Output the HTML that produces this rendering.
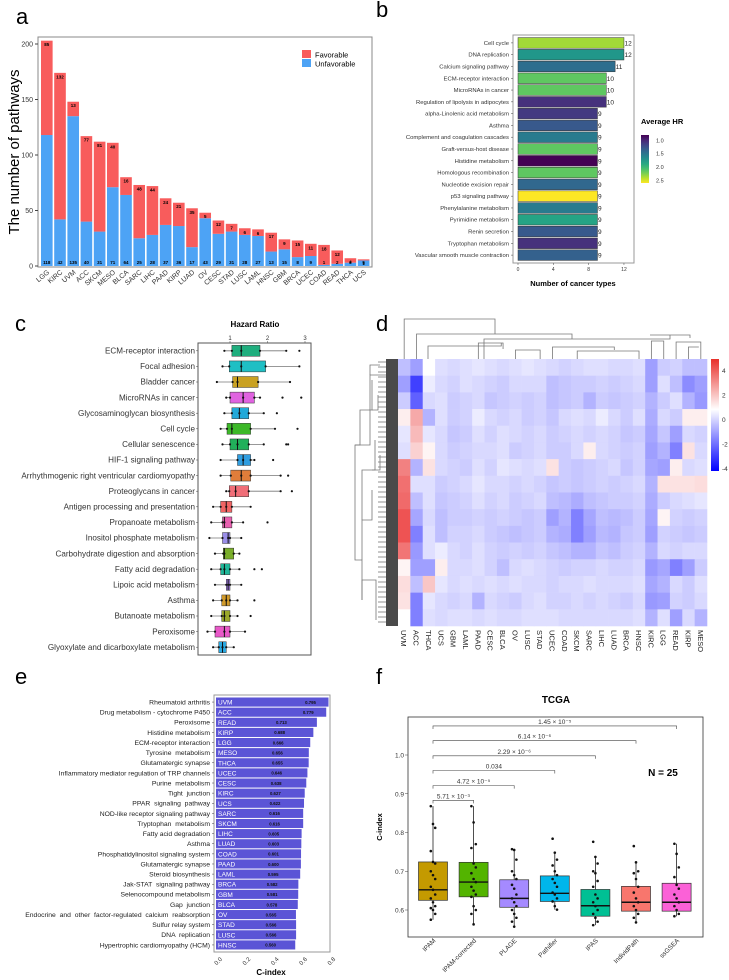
<!DOCTYPE html>
<html><head><meta charset="utf-8"><style>
html,body{margin:0;padding:0;background:#fff;}
svg{display:block;font-family:"Liberation Sans",Arial,sans-serif;}
</style></head><body>
<svg id="fig" width="729" height="980" viewBox="0 0 729 980" xmlns="http://www.w3.org/2000/svg"></svg>
<script>
// ---------- DATA ----------
// Panel a
const aCats = ["LGG","KIRC","UVM","ACC","SKCM","MESO","BLCA","SARC","LIHC","PAAD","KIRP","LUAD","OV","CESC","STAD","LUSC","LAML","HNSC","GBM","BRCA","UCEC","COAD","READ","THCA","UCS"];
const aUnfav = [118,42,135,40,31,71,64,25,28,37,36,17,43,29,31,28,27,13,15,8,9,1,2,3,5];
const aFav = [85,132,13,77,81,40,16,48,44,24,21,35,5,12,7,6,6,17,9,15,11,18,12,4,1];
const aTicks = [0,50,100,150,200];
// Panel b
const bCats = ["Cell cycle","DNA replication","Calcium signaling pathway","ECM-receptor interaction","MicroRNAs in cancer","Regulation of lipolysis in adipocytes","alpha-Linolenic acid metabolism","Asthma","Complement and coagulation cascades","Graft-versus-host disease","Histidine metabolism","Homologous recombination","Nucleotide excision repair","p53 signaling pathway","Phenylalanine metabolism","Pyrimidine metabolism","Renin secretion","Tryptophan metabolism","Vascular smooth muscle contraction"];
const bCounts = [12,12,11,10,10,10,9,9,9,9,9,9,9,9,9,9,9,9,9];
const bHR = [2.35,1.75,1.45,2.15,2.15,1.05,1.1,1.3,1.55,2.15,0.8,2.15,1.4,2.6,1.55,1.85,1.3,1.05,1.35];
const bTicks = [0,4,8,12];
const bLegTicks = [1.0,1.5,2.0,2.5];
// Panel c
const cCats = ["ECM-receptor interaction","Focal adhesion","Bladder cancer","MicroRNAs in cancer","Glycosaminoglycan biosynthesis","Cell cycle","Cellular senescence","HIF-1 signaling pathway","Arrhythmogenic right ventricular cardiomyopathy","Proteoglycans in cancer","Antigen processing and presentation","Propanoate metabolism","Inositol phosphate metabolism","Carbohydrate digestion and absorption","Fatty acid degradation","Lipoic acid metabolism","Asthma","Butanoate metabolism","Peroxisome","Glyoxylate and dicarboxylate metabolism"];
const cLo = [0.85,0.8,0.65,0.9,0.85,0.75,0.8,0.75,0.75,0.9,0.55,0.5,0.45,0.6,0.5,0.6,0.55,0.5,0.4,0.55];
const cQ1 = [1.05,0.98,1.07,1.0,1.05,0.92,1.0,1.2,1.02,0.98,0.75,0.8,0.8,0.82,0.75,0.9,0.78,0.78,0.6,0.7];
const cMed = [1.3,1.3,1.2,1.35,1.25,1.05,1.2,1.35,1.3,1.15,0.9,0.85,0.95,0.85,0.85,0.95,0.9,0.85,0.85,0.8];
const cQ3 = [1.8,1.95,1.75,1.65,1.5,1.55,1.5,1.55,1.55,1.5,1.05,1.05,1.0,1.1,1.0,1.0,1.0,1.0,1.0,0.9];
const cHi = [2.5,2.85,2.6,1.8,1.9,2.2,1.9,1.65,2.35,2.35,1.55,1.35,1.3,1.25,1.25,1.3,1.2,1.2,1.4,1.1];
const cOut = [[2.85],[],[],[2.4,2.9],[2.25],[2.8],[2.5,2.55],[2.15],[2.55],[2.65],[],[2.0],[],[],[1.65,1.85],[],[1.65],[1.55],[],[]];
const cColors = ["#1fae7e","#1fbfc4","#c9a122","#e063e0","#22a9d9","#3cb828","#21b05a","#2f9de0","#e07d3a","#f06e78","#f06464","#e860b0","#9a8ee8","#7aae2a","#1fb89a","#a07ce0","#d09a2a","#9aa82a","#e858c8","#2aa8e0"];
const cTicks = [1,2,3];
// Panel d
const dCols = ["UVM","ACC","THCA","UCS","GBM","LAML","PAAD","CESC","BLCA","OV","LUSC","STAD","UCEC","COAD","SKCM","SARC","LIHC","LUAD","BRCA","HNSC","KIRC","LGG","READ","KIRP","MESO"];
const dB1 = [-1,-1.5,0,-0.5,-0.6,-0.5,-0.4,-0.5,-0.6,-0.5,-0.4,-0.5,-0.6,-0.7,-0.6,-0.5,-0.5,-0.6,-0.6,-0.5,-1.5,-0.8,-0.7,-1,-1];
const dB2 = [-1.5,-3,-0.3,-0.6,-0.7,-0.5,-0.6,-0.7,-0.8,-0.6,-0.6,-0.6,-1,-0.9,-0.8,-0.8,-0.7,-0.8,-0.7,-0.6,-1.5,-0.5,-1,-1.8,-1.5];
const dB3 = [-0.8,-2.5,-0.6,-0.5,-0.8,-0.7,-0.6,-0.9,-0.8,-0.7,-0.8,-0.7,-1,-0.9,-0.8,-1.2,-0.8,-0.9,-0.8,-0.7,-1.2,-0.8,-0.5,-1.2,-1.6];
const dB4 = [0.3,1.5,-1.2,-0.5,-0.8,-0.7,-0.3,-0.6,-0.7,-0.6,-0.8,-0.7,-0.9,-0.6,-0.5,-0.6,-0.3,-0.6,-0.8,-0.5,-1.3,-0.6,-0.8,0.3,0.3];
const dB5 = [-0.4,1.2,-0.4,-0.6,-0.9,-0.8,-0.5,-0.7,-0.5,-0.6,-0.7,-0.6,-0.8,-0.7,-0.6,-0.7,-0.6,-0.7,-0.9,-0.8,-1.4,-0.9,-1.5,-0.6,-0.7];
const dB6 = [-0.5,0.8,0.2,-0.6,-0.8,-0.7,-0.6,-0.6,-0.5,-0.8,-0.7,-0.6,-0.8,-0.8,-0.6,0.3,-0.6,-0.7,-0.8,-0.7,-1.5,-1.2,-2,0.5,-0.6];
const dB7 = [2.2,-1.2,0.5,-0.6,-0.7,-0.8,-0.5,-0.7,-0.4,-0.5,-0.6,-0.5,0.5,-0.8,-0.9,-0.8,-0.7,-0.6,-0.9,-0.7,-1.4,-1.5,0.3,-0.6,-0.5];
const dB8 = [2.5,-0.5,-0.5,-0.8,-0.7,-0.6,-0.4,-0.6,-0.6,-0.7,-0.6,-0.7,-0.9,-0.8,-0.9,-0.8,-0.7,-0.8,-0.7,-0.6,-1.2,0.5,0.5,0.5,0.6];
const dB9 = [2.6,-1,-0.5,-0.9,-0.8,-0.7,-0.5,-0.7,-0.6,-0.8,-0.7,-0.6,-1,-1.1,-1.3,-1,-0.9,-0.8,-0.8,-0.7,-1.3,-0.8,-0.6,-0.5,-0.4];
const dB10 = [3,-1.4,-0.6,-1,-0.8,-0.8,-0.7,-0.8,-0.7,-0.8,-0.9,-0.8,-1.5,-1.2,-2,-1.4,-1,-1.1,-1,-0.8,-1.4,0.2,-0.7,-0.8,-0.7];
const dB11 = [3,-2,-0.5,-1,-0.7,-0.7,-0.6,-0.8,-0.9,-1,-0.9,-0.8,-1.2,-1.3,-2,-1.5,-1.1,-1.2,-0.9,-0.8,-1.5,-0.7,-0.8,-0.9,-0.8];
const dB12 = [2.4,-1.6,-0.5,-0.3,-0.6,-0.7,-0.5,-0.7,-0.8,-0.7,-0.8,-0.7,-0.9,-1,-1.2,-1.2,-0.9,-1,-0.8,-0.7,-1.2,-0.6,-0.7,-0.6,-0.6];
const dB13 = [0.2,-1.5,-1.5,0.3,-0.6,-0.6,-0.5,-0.7,-1,-0.6,-0.5,-0.6,-0.7,-0.8,-0.7,-0.7,-0.6,-0.7,-0.7,-0.6,-1.6,-1.4,-2,-1.5,-0.8];
const dB14 = [0.6,-1,1,-0.4,-0.6,-0.5,-0.6,-0.5,-0.6,-0.5,-0.6,-0.6,-0.7,-0.6,-0.6,-0.5,-0.6,-0.6,-0.6,-0.5,-1.4,-1.2,-0.6,-0.8,-0.5];
const dB15 = [0.5,-2,-0.4,-0.6,-0.7,-0.6,-1.2,-0.6,-0.7,-0.8,-0.6,-0.5,-0.7,-0.7,-0.6,-0.7,-0.6,-0.7,-0.8,-0.6,-1.6,-1.5,-0.7,-0.8,-0.6];
const dB16 = [0,-2,-0.5,-0.6,-0.5,-0.5,-0.6,-0.5,-0.6,-0.6,-0.5,-0.5,-0.5,-0.6,-0.6,-0.6,-0.6,-0.6,-0.6,-0.5,-1.2,-0.5,-1.5,-0.6,-1.2];
const dTicks = [4,2,0,-2,-4];
// Panel e
const eCats = ["Rheumatoid arthritis","Drug metabolism - cytochrome P450","Peroxisome","Histidine metabolism","ECM-receptor interaction","Tyrosine  metabolism","Glutamatergic synapse","Inflammatory mediator regulation of TRP channels","Purine  metabolism","Tight  junction","PPAR  signaling  pathway","NOD-like receptor signaling pathway","Tryptophan  metabolism","Fatty acid degradation","Asthma","Phosphatidylinositol signaling system","Glutamatergic synapse","Steroid biosynthesis","Jak-STAT  signaling pathway","Selenocompound metabolism","Gap  junction","Endocrine  and  other  factor-regulated  calcium  reabsorption","Sulfur relay system","DNA  replication","Hypertrophic cardiomyopathy (HCM)"];
const eCancer = ["UVM","ACC","READ","KIRP","LGG","MESO","THCA","UCEC","CESC","KIRC","UCS","SARC","SKCM","LIHC","LUAD","COAD","PAAD","LAML","BRCA","GBM","BLCA","OV","STAD","LUSC","HNSC"];
const eVals = [0.795,0.779,0.713,0.688,0.666,0.656,0.655,0.646,0.638,0.627,0.622,0.616,0.616,0.605,0.603,0.601,0.600,0.595,0.582,0.581,0.578,0.565,0.566,0.566,0.560];
const eTicks = [0,0.2,0.4,0.6,0.8];
// Panel f
const fCats = ["IPAM","IPAM-corrected","PLAGE","Pathifier","IPAS","IndividPath","ssGSEA"];
const fQ1 = [0.625,0.634,0.607,0.622,0.584,0.597,0.597];
const fMed = [0.652,0.672,0.630,0.643,0.611,0.620,0.620];
const fQ3 = [0.724,0.723,0.678,0.688,0.653,0.661,0.669];
const fLo = [0.575,0.563,0.557,0.601,0.561,0.568,0.584];
const fHi = [0.868,0.868,0.757,0.748,0.737,0.723,0.771];
const fPts = [
 [0.868,0.822,0.812,0.752,0.724,0.72,0.7,0.69,0.68,0.66,0.652,0.64,0.63,0.62,0.61,0.605,0.6,0.59,0.575],
 [0.868,0.826,0.77,0.76,0.72,0.71,0.695,0.68,0.672,0.66,0.65,0.64,0.634,0.61,0.6,0.59,0.563],
 [0.757,0.755,0.73,0.7,0.69,0.68,0.665,0.655,0.64,0.63,0.62,0.61,0.6,0.59,0.58,0.57,0.557],
 [0.784,0.748,0.73,0.715,0.7,0.69,0.68,0.67,0.66,0.645,0.64,0.63,0.622,0.61,0.601],
 [0.776,0.737,0.72,0.7,0.695,0.675,0.66,0.64,0.63,0.62,0.61,0.6,0.59,0.58,0.57,0.561],
 [0.765,0.723,0.7,0.695,0.68,0.66,0.645,0.63,0.62,0.61,0.6,0.59,0.58,0.568],
 [0.771,0.745,0.71,0.685,0.665,0.655,0.64,0.63,0.62,0.61,0.6,0.59,0.584]];
const fColors = ["#c49a00","#53b400","#a58aff","#00b6eb","#00c094","#f8766d","#fb61d7"];
const fTicks = [0.6,0.7,0.8,0.9,1.0];
const fBrTo = [1,2,3,4,5,6];
const fBrY = [0.883,0.921,0.96,0.998,1.037,1.075];
const fBrLab = ["5.71 × 10⁻³","4.72 × 10⁻⁵","0.034","2.29 × 10⁻⁶","6.14 × 10⁻⁶","1.45 × 10⁻⁵"];

// ---------- HELPERS ----------
const svg = document.getElementById('fig');
const NS = 'http://www.w3.org/2000/svg';
function mk(tag, at, parent, txt){
  const e = document.createElementNS(NS, tag);
  for (const k in at) e.setAttribute(k, at[k]);
  if (txt !== undefined) e.textContent = txt;
  (parent || svg).appendChild(e);
  return e;
}
function grp(name, parent){
  const g = mk('g', {}, parent);
  
  
  return g;
}
function letter(t, x, y){
  const e = mk('text', {x:x, y:y, 'font-size':22}, svg, t);
  
  
}
letter('a', 16, 24); letter('b', 376, 17); letter('c', 15, 331); letter('d', 376, 331); letter('e', 15, 684); letter('f', 376, 684);

// ---------- PANEL A ----------
(function(){
  const g = grp('panel-a-stacked-bar-chart');
  const L=38, R=372, T=37, B=267;
  const y = v => 266 - v*1.11;
  const step = (R-L-4)/aCats.length, bw = step*0.88;
  const x = i => L + 3 + i*step;
  mk('rect',{x:L,y:T,width:R-L,height:B-T,fill:'none',stroke:'#888','stroke-width':1},g);
  aTicks.forEach(t=>{
    mk('line',{x1:L-3,x2:L,y1:y(t),y2:y(t),stroke:'#444'},g);
    const tl = mk('text',{x:L-5,y:y(t)+2.5,'font-size':7,'text-anchor':'end',fill:'#333'},g,t);
    
    
  });
  aCats.forEach((c,i)=>{
    const u = mk('rect',{x:x(i),y:y(aUnfav[i]),width:bw,height:y(0)-y(aUnfav[i]),fill:'#4da3f5'},g);
    
    
    const f = mk('rect',{x:x(i),y:y(aUnfav[i]+aFav[i]),width:bw,height:y(aUnfav[i])-y(aUnfav[i]+aFav[i]),fill:'#f85c5c'},g);
    
    
    mk('text',{x:x(i)+bw/2,y:y(aUnfav[i]+aFav[i])+5.5,'font-size':4.5,'font-weight':'bold','text-anchor':'middle'},g,aFav[i]);
    mk('text',{x:x(i)+bw/2,y:264,'font-size':4.5,'font-weight':'bold','text-anchor':'middle'},g,aUnfav[i]);
    const cx = x(i)+bw/2+3, cy = 273;
    const lab = mk('text',{x:cx,y:cy,'font-size':7,'text-anchor':'end',fill:'#333',transform:`rotate(-40 ${cx} ${cy})`},g,c);
    
    
  });
  const yt = mk('text',{x:0,y:0,'font-size':15,'text-anchor':'middle',transform:'translate(19 152) rotate(-90)'},g,'The number of pathways');
  
  
  const lg = grp('legend', g);
  mk('rect',{x:302,y:50,width:9,height:8,fill:'#f85c5c'},lg);
  mk('rect',{x:302,y:59,width:9,height:8,fill:'#4da3f5'},lg);
  mk('text',{x:315,y:57.5,'font-size':7.5},lg,'Favorable');
  mk('text',{x:315,y:66.5,'font-size':7.5},lg,'Unfavorable');
})();

// ---------- PANEL B ----------
function viridis(t){
  const s=[[68,1,84],[72,40,120],[62,74,137],[49,104,142],[38,130,142],[31,158,137],[53,183,121],[109,205,89],[180,222,44],[253,231,37]];
  t=Math.max(0,Math.min(1,t))*(s.length-1); const i=Math.min(Math.floor(t),s.length-2), f=t-i;
  return 'rgb('+[0,1,2].map(k=>Math.round(s[i][k]+(s[i+1][k]-s[i][k])*f)).join(',')+')';
}
(function(){
  const g = grp('panel-b-bar-chart');
  const L=513,R=634,T=35,B=263;
  const x = v => 518 + v*8.83;
  const rh = (B-T-4)/bCats.length;
  const yc = i => T+2+rh*(i+0.5);
  const hrT = v => (v-0.8)/(2.6-0.8);
  mk('rect',{x:L,y:T,width:R-L,height:B-T,fill:'none',stroke:'#999'},g);
  bCats.forEach((c,i)=>{
    const b = mk('rect',{x:x(0),y:yc(i)-rh*0.45,width:x(bCounts[i])-x(0),height:rh*0.9,fill:viridis(hrT(bHR[i])),stroke:'#333','stroke-width':0.5},g);
    
    
    mk('text',{x:x(bCounts[i])+0.5,y:yc(i)+2.5,'font-size':6.5,fill:'#222'},g,bCounts[i]);
    mk('text',{x:L-4,y:yc(i)+2,'font-size':5.9,'text-anchor':'end',fill:'#333'},g,c);
    mk('line',{x1:L-2,x2:L,y1:yc(i),y2:yc(i),stroke:'#444','stroke-width':0.5},g);
  });
  bTicks.forEach(t=>{
    mk('line',{x1:x(t),x2:x(t),y1:B,y2:B+2,stroke:'#444','stroke-width':0.5},g);
    mk('text',{x:x(t),y:B+8,'font-size':5,'text-anchor':'middle',fill:'#333'},g,t);
  });
  const xt = mk('text',{x:573,y:286,'font-size':7.5,'font-weight':'bold','text-anchor':'middle'},g,'Number of cancer types');
  
  
  const lg = grp('colorbar-legend', g);
  mk('text',{x:641,y:124,'font-size':7.5,'font-weight':'bold'},lg,'Average HR');
  const defs = mk('defs',{},lg);
  const gr = mk('linearGradient',{id:'vir',x1:0,y1:0,x2:0,y2:1},defs);
  for(let k=0;k<=10;k++) mk('stop',{offset:k/10,'stop-color':viridis(k/10)},gr);
  mk('rect',{x:641,y:135,width:8,height:48,fill:'url(#vir)'},lg);
  bLegTicks.forEach(t=>{
    const yy = 135 + hrT(t)*48;
    mk('text',{x:656,y:yy+2,'font-size':5.5,fill:'#333'},lg,t.toFixed(1));
  });
})();

// ---------- PANEL C ----------
(function(){
  const g = grp('panel-c-boxplot');
  const L=198,R=311,T=343,B=655;
  const x = v => 230 + (v-1)*37.5;
  const rh = (B-T)/cCats.length;
  const yc = i => T + rh*(i+0.5);
  mk('rect',{x:L,y:T,width:R-L,height:B-T,fill:'none',stroke:'#555'},g);
  const tt = mk('text',{x:255,y:327,'font-size':8,'font-weight':'bold','text-anchor':'middle'},g,'Hazard Ratio');
  
  
  cTicks.forEach(t=>{
    mk('text',{x:x(t),y:340,'font-size':6,'text-anchor':'middle',fill:'#333'},g,t);
    mk('line',{x1:x(t),x2:x(t),y1:T-2,y2:T,stroke:'#444','stroke-width':0.5},g);
  });
  cCats.forEach((c,i)=>{
    const y0 = yc(i), h = rh*0.7;
    mk('line',{x1:x(cLo[i]),x2:x(cHi[i]),y1:y0,y2:y0,stroke:'#777','stroke-width':0.8},g);
    const b = mk('rect',{x:x(cQ1[i]),y:y0-h/2,width:x(cQ3[i])-x(cQ1[i]),height:h,fill:cColors[i],stroke:'#333','stroke-width':0.5},g);
    
    
    mk('line',{x1:x(cMed[i]),x2:x(cMed[i]),y1:y0-h/2,y2:y0+h/2,stroke:'#111','stroke-width':1},g);
    [cLo[i],cQ1[i],cMed[i],cQ3[i],cHi[i]].concat(cOut[i]).forEach(v=>{
      mk('circle',{cx:x(v),cy:y0,r:1.1,fill:'#111'},g);
    });
    mk('text',{x:L-3,y:y0+2.7,'font-size':8.1,'text-anchor':'end',fill:'#333'},g,c);
    mk('line',{x1:L-2,x2:L,y1:y0,y2:y0,stroke:'#444','stroke-width':0.5},g);
  });
})();

// ---------- PANEL D ----------
function divColor(v){
  v=Math.max(-4,Math.min(4,v));
  if(v>=0){const f=v/4; return `rgb(${Math.round(255-(255-232)*f)},${Math.round(255-255*f*0.9)},${Math.round(255-255*f*0.9)})`;}
  const f=-v/4; return `rgb(${Math.round(255-255*f)},${Math.round(255-255*f)},255)`;
}
(function(){
  const g = grp('panel-d-heatmap');
  const L=398,R=707,T=359,B=626;
  const bands=[dB1,dB2,dB3,dB4,dB5,dB6,dB7,dB8,dB9,dB10,dB11,dB12,dB13,dB14,dB15,dB16];
  const cw=(R-L)/dCols.length, bh=(B-T)/bands.length;
  bands.forEach((row,r)=>{
    row.forEach((v,c)=>{
      const cell = mk('rect',{x:L+c*cw,y:T+r*bh,width:cw+0.3,height:bh+0.3,fill:divColor(v)},g);
      
      
    });
  });
  dCols.forEach((c,i)=>{
    const cx=L+cw*(i+0.5)-3, cy=630;
    mk('text',{x:cx,y:cy,'font-size':7.5,'text-anchor':'start',fill:'#222',transform:`rotate(90 ${cx} ${cy})`},g,c);
  });
  mk('rect',{x:386,y:T,width:12,height:B-T,fill:'#4a4a4a'},g);
  const cc = i => L+cw*(i+0.5);
  const den = grp('column-dendrogram', g);
  const st={fill:'none',stroke:'#777','stroke-width':0.8};
  const P = d => mk('path',Object.assign({d:d},st),den);
  P(`M${cc(0)},359V319H495V334`);
  P(`M${cc(1)},359V334H572V339`);
  P(`M484,359V339H670V335`);
  P(`M428,359V346H${cc(3)+60}V343`);
  P(`M${cc(6)},359V343H${cc(8)}V349`);
  P(`M${cc(9)},359V350H${cc(11)}V359`);
  P(`M${cc(12)},359V347H${cc(17)}V350`);
  P(`M${cc(14)},359V351H${cc(19)}V359`);
  P(`M650,335H690V338`);
  P(`M${cc(20)},359V341H${cc(21)}V359`);
  P(`M${cc(22)},359V342H${cc(24)}V359`);
  P(`M${cc(23)},359V347H${cc(24)-2}`);
  const rden = grp('row-dendrogram', g);
  const R2 = d => mk('path',Object.assign({d:d},st),rden);
  R2('M386,375H370V445H355V560H362V600');
  R2('M355,445H360V410H372V380');
  R2('M372,410H378V395');
  R2('M362,520V470H375V440');
  R2('M362,560V520H372V490');
  R2('M362,600V580H376V620');
  R2('M372,470H380V455');
  R2('M370,375V365H380');
  for(let yy=T+3; yy<B; yy+=5){ R2(`M378,${yy}H386`); }
  const lg = grp('heatmap-colorbar', g);
  const defs = mk('defs',{},lg);
  const gr = mk('linearGradient',{id:'div',x1:0,y1:0,x2:0,y2:1},defs);
  [[0,'#e8302a'],[0.45,'#ffffff'],[1,'#0000ff']].forEach(s=>mk('stop',{offset:s[0],'stop-color':s[1]},gr));
  mk('rect',{x:711,y:359,width:8,height:112,fill:'url(#div)'},lg);
  dTicks.forEach((t,i)=>{
    mk('text',{x:722,y:373+i*24.5,'font-size':6.5,fill:'#333'},lg,t);
  });
})();

// ---------- PANEL E ----------
(function(){
  const g = grp('panel-e-bar-chart');
  const L=214,R=330,T=695,B=952;
  const x = v => 216 + v*141.5;
  const rh = (B-T-4)/eCats.length;
  const yc = i => T+2+rh*(i+0.5);
  mk('rect',{x:L,y:T,width:R-L,height:B-T,fill:'none',stroke:'#999'},g);
  eCats.forEach((c,i)=>{
    const b = mk('rect',{x:x(0),y:yc(i)-rh*0.45,width:x(eVals[i])-x(0),height:rh*0.9,fill:'#5b54d6'},g);
    
    
    mk('text',{x:x(0)+2,y:yc(i)+2.5,'font-size':6.5,fill:'#fff'},g,eCancer[i]);
    mk('text',{x:x(eVals[i])-x(0)>110? x(eVals[i])-18 : x(0)+ (x(eVals[i])-x(0))*0.5+15,y:yc(i)+1.8,'font-size':4.3,'font-weight':'bold','text-anchor':'middle',fill:'#111'},g,eVals[i].toFixed(3));
    mk('text',{x:L-4,y:yc(i)+2.4,'font-size':6.8,'text-anchor':'end',fill:'#222',style:'white-space:pre'},g,c);
    mk('line',{x1:L-2,x2:L,y1:yc(i),y2:yc(i),stroke:'#444','stroke-width':0.5},g);
  });
  eTicks.forEach(t=>{
    const cx=x(t)+3, cy=B+4;
    mk('text',{x:cx,y:cy,'font-size':6,'text-anchor':'end',fill:'#333',transform:`rotate(-45 ${cx} ${cy}) translate(0 5)`},g,t.toFixed(1));
  });
  const xt = mk('text',{x:271,y:975,'font-size':8,'font-weight':'bold','text-anchor':'middle'},g,'C-index');
  
  
})();

// ---------- PANEL F ----------
(function(){
  const g = grp('panel-f-boxplot');
  const L=408,R=703,T=717,B=937;
  const y = v => 910 - (v-0.6)*387.5;
  const x = i => 433 + i*40.6;
  const bw = 29;
  mk('rect',{x:L,y:T,width:R-L,height:B-T,fill:'none',stroke:'#333','stroke-width':0.8},g);
  const tt = mk('text',{x:556,y:703,'font-size':10,'font-weight':'bold','text-anchor':'middle'},g,'TCGA');
  
  
  fTicks.forEach(t=>{
    mk('line',{x1:L-3,x2:L,y1:y(t),y2:y(t),stroke:'#444','stroke-width':0.5},g);
    mk('text',{x:L-4,y:y(t)+2.5,'font-size':6.5,'text-anchor':'end',fill:'#333'},g,t.toFixed(1));
  });
  const yt = mk('text',{x:0,y:0,'font-size':7.5,'font-weight':'bold','text-anchor':'middle',transform:'translate(382 827) rotate(-90)'},g,'C-index');
  
  
  fCats.forEach((c,i)=>{
    mk('line',{x1:x(i),x2:x(i),y1:y(fLo[i]),y2:y(fHi[i]),stroke:'#222','stroke-width':0.8},g);
    const b = mk('rect',{x:x(i)-bw/2,y:y(fQ3[i]),width:bw,height:y(fQ1[i])-y(fQ3[i]),fill:fColors[i],stroke:'#333','stroke-width':0.7},g);
    
    
    mk('line',{x1:x(i)-bw/2,x2:x(i)+bw/2,y1:y(fMed[i]),y2:y(fMed[i]),stroke:'#111','stroke-width':1.4},g);
    fPts[i].forEach((v,k)=>{
      mk('circle',{cx:x(i)+((k%3)-1)*2.2,cy:y(v),r:1.3,fill:'#111'},g);
    });
    const cx=x(i)+3, cy=B+4;
    mk('text',{x:cx,y:cy,'font-size':6.5,'text-anchor':'end',fill:'#333',transform:`rotate(-45 ${cx} ${cy})`},g,c);
  });
  fBrTo.forEach((j,k)=>{
    const yy=y(fBrY[k]);
    const br = mk('path',{d:`M${x(0)},${yy+3}V${yy}H${x(j)}V${yy+3}`,fill:'none',stroke:'#444','stroke-width':0.6},g);
    
    
    mk('text',{x:(x(0)+x(j))/2,y:yy-2,'font-size':6.5,'text-anchor':'middle',fill:'#333'},g,fBrLab[k]);
  });
  const n = mk('text',{x:663,y:776,'font-size':10,'font-weight':'bold','text-anchor':'middle'},g,'N = 25');
  
  
})();
</script>
</body></html>
